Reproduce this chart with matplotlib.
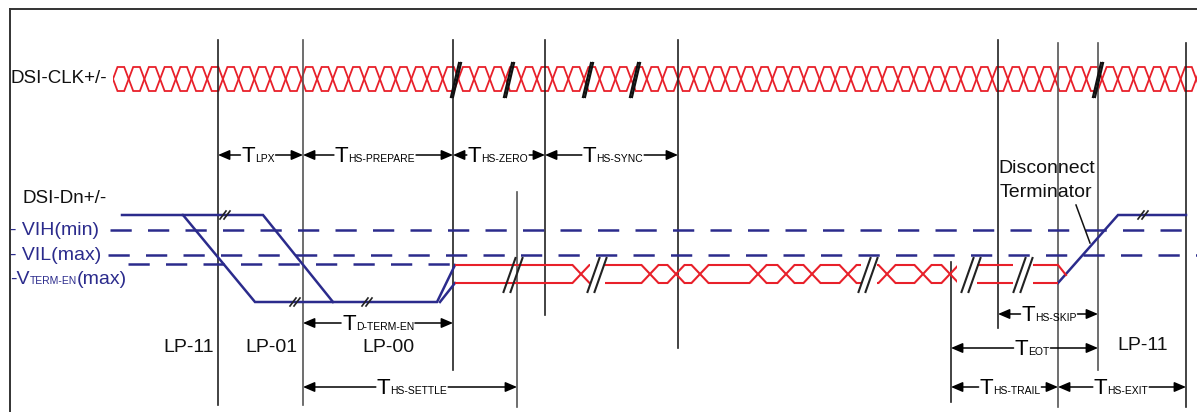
import matplotlib
matplotlib.use('Agg')
import matplotlib.pyplot as plt
from matplotlib.patches import Rectangle
import numpy as np

plt.rcParams['font.family'] = ['Liberation Sans', 'DejaVu Sans']

# ---------------- data (pixel-based diagram coordinates) ----------------
W, H = 1197, 412
NAVY = '#2b2b8c'
RED = '#e8202a'
DARK = '#222222'
GREY = '#555555'

# timing edges: x, top, bottom, colour
edge_x = [218, 303, 453, 517, 545, 678, 951, 998, 1058, 1098, 1186]
edge_top = [40, 40, 40, 192, 40, 40, 262, 40, 43, 43, 43]
edge_bot = [405, 405, 370, 407, 315, 348, 402, 328, 407, 370, 407]
edge_col = [DARK, GREY, DARK, GREY, DARK, DARK, DARK, DARK, GREY, GREY, DARK]

# clock lane
clk_start, clk_end, clk_period = 113, 1197, 15.7
clk_hi, clk_lo, clk_t = 67, 91, 4.5
clk_breaks = [456, 509, 588, 635, 1098]

# levels
lp_high, lp_low = 215, 302
vih_y, vil_y, vterm_y = 230, 255, 264
hs_hi, hs_lo = 265, 283

# LP traces (x, y)
lp_trace1 = [(122, 215), (183, 215), (255, 302), (437, 302), (455, 265)]
lp_trace2 = [(183, 215), (263, 215), (333, 302)]
lp_trace3 = [(440, 302), (455, 283)]
lp_trace4 = [(1058, 283), (1118, 215), (1186, 215)]
lp_breaks = [(225, 215), (295, 302), (367, 302), (1143, 215)]

# HS data segments: (start, end, crossings)
hs_segments = [
    (455, 590, [581]),
    (605, 861, [650, 676, 700, 758, 786, 812, 848]),
    (877, 957, [887, 923, 950]),
    (977, 1013, []),
    (1033, 1058, []),
]
hs_breaks = [513, 597, 868, 971, 1023]
hs_t = 8.5

# timing spans: (x_from, x_to, y, label_center, subscript)
spans = [
    (218, 303, 155, 258, 'LPX'),
    (303, 453, 155, 375, 'HS-PREPARE'),
    (453, 545, 155, 498, 'HS-ZERO'),
    (545, 678, 155, 613, 'HS-SYNC'),
    (303, 453, 323, 378, 'D-TERM-EN'),
    (303, 517, 387, 412, 'HS-SETTLE'),
    (998, 1098, 314, 1049, 'HS-SKIP'),
    (951, 1098, 348, 1032, 'EOT'),
    (951, 1058, 387, 1010, 'HS-TRAIL'),
    (1058, 1186, 387, 1121, 'HS-EXIT'),
]

state_labels = ['LP-11', 'LP-01', 'LP-00', 'LP-11']
state_x = [189, 271, 388, 1143]
state_y = [348, 348, 348, 345]

# ---------------- figure ----------------
fig = plt.figure(figsize=(W / 100, H / 100), dpi=100)
ax = fig.add_axes([0, 0, 1, 1])
ax.set_xlim(0, W)
ax.set_ylim(H, 0)
ax.axis('off')

# frame
ax.plot([9.5, W], [8.5, 8.5], color='#333333', lw=1.4)
ax.plot([9.5, 9.5], [8.5, H], color='#333333', lw=1.4)


def diff_pair(start, end, crossings, hi, lo, t, color, lw):
    pad_l = start - 3 * t - 5
    pad_r = end + 3 * t + 5
    levels = [hi, lo]
    xa, ya, xb, yb = [pad_l], [levels[0]], [pad_l], [levels[1]]
    cur = 0
    for c in crossings:
        xa += [c - t, c + t]
        ya += [levels[cur], levels[1 - cur]]
        xb += [c - t, c + t]
        yb += [levels[1 - cur], levels[cur]]
        cur = 1 - cur
    xa.append(pad_r); ya.append(levels[cur])
    xb.append(pad_r); yb.append(levels[1 - cur])
    clip = Rectangle((start, 0), end - start, H, transform=ax.transData)
    for xs, ys in ((xa, ya), (xb, yb)):
        ln, = ax.plot(xs, ys, color=color, lw=lw, solid_joinstyle='miter')
        ln.set_clip_path(clip)


# clock
clk_cross = list(np.arange(clk_start, clk_end + clk_period, clk_period))
diff_pair(clk_start, clk_end, clk_cross, clk_hi, clk_lo, clk_t, RED, 1.3)

# vertical timing edges
for x, t0, t1, c in zip(edge_x, edge_top, edge_bot, edge_col):
    ax.plot([x, x], [t0, t1], color=c, lw=1.2)

# clock break marks
for x in clk_breaks:
    for o in (-1.0, 1.0):
        ax.plot([x - 4 + o, x + 4 + o], [97, 63], color='#111111', lw=1.6)

# dashed threshold lines
dash = dict(color=NAVY, lw=1.8, dashes=(8.5, 6.5))
ax.plot([110, W], [vih_y, vih_y], **dash)
ax.plot([108, W], [vil_y, vil_y], **dash)
ax.plot([128, 453], [vterm_y, vterm_y], **dash)

# LP traces
for tr in (lp_trace1, lp_trace2, lp_trace3, lp_trace4):
    xs, ys = zip(*tr)
    ax.plot(xs, ys, color=NAVY, lw=1.8, solid_joinstyle='miter')
for (x, y) in lp_breaks:
    for o in (-2, 2):
        ax.plot([x - 3 + o, x + 3 + o], [y + 4, y - 4], color='#222222', lw=1.2)

# HS data
for (s, e, cr) in hs_segments:
    diff_pair(s, e, cr, hs_hi, hs_lo, hs_t, RED, 1.5)
ax.plot([1058, 1066], [265, 275], color=RED, lw=1.5)
for x in hs_breaks:
    for o in (-3.5, 3.5):
        ax.plot([x - 6 + o, x + 6 + o], [292, 258], color='#222222', lw=1.5)

renderer = fig.canvas.get_renderer()


def place_parts(x, ybase, parts, color='black', align='left'):
    texts = []
    for s, fs in parts:
        texts.append(ax.text(0, ybase, s, fontsize=fs, color=color,
                             va='baseline', ha='left'))
    widths = [t.get_window_extent(renderer).width for t in texts]
    total = sum(widths)
    x0 = x - total / 2 if align == 'center' else x
    cx = x0
    for t, w in zip(texts, widths):
        t.set_x(cx)
        cx += w
    return x0, x0 + total


def arrow(x_from, x_to, y):
    ax.annotate('', xy=(x_to, y), xytext=(x_from, y),
                arrowprops=dict(arrowstyle='-|>,head_length=0.7,head_width=0.3',
                                lw=1.1, color='black', shrinkA=0, shrinkB=0,
                                mutation_scale=10))


for (x1, x2, y, xc, sub) in spans:
    l, r = place_parts(xc, y + 7, [('T', 16), (sub, 7.5)], align='center')
    arrow(l - 1, x1, y)
    arrow(r + 1, x2, y)

# left labels
ax.text(11, 78, 'DSI-CLK+/-', fontsize=13.5, va='center', ha='left', color='#111111')
ax.text(22, 198, 'DSI-Dn+/-', fontsize=13.5, va='center', ha='left', color='#111111')
ax.text(10, 230, '- VIH(min)', fontsize=14, va='center', ha='left', color=NAVY)
ax.text(10, 255, '- VIL(max)', fontsize=14, va='center', ha='left', color=NAVY)
place_parts(10, 284, [('-V', 14), ('TERM-EN', 7.5), ('(max)', 14)], color=NAVY)

# state labels
for s, x, y in zip(state_labels, state_x, state_y):
    ax.text(x, y, s, fontsize=14, va='center', ha='center', color='#111111')

# disconnect terminator annotation
ax.text(998, 168, 'Disconnect', fontsize=14, va='center', ha='left', color='#111111')
ax.text(1000, 192, 'Terminator', fontsize=14, va='center', ha='left', color='#111111')
ax.plot([1076, 1090], [205, 243], color='#111111', lw=1.1)

fig.savefig('out.png', dpi=100)
